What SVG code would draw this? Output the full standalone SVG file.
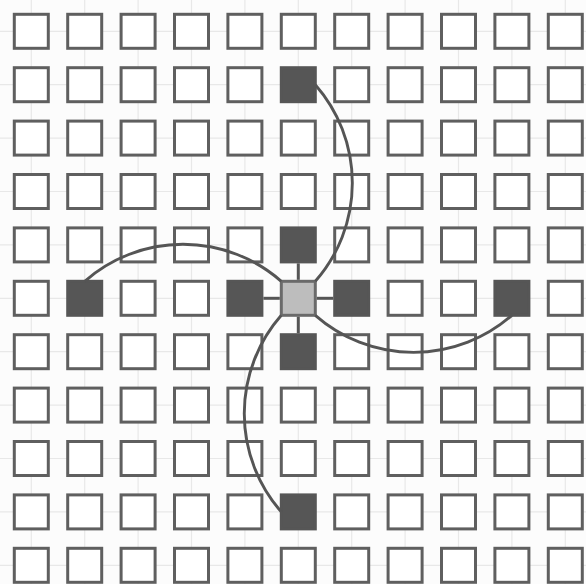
<svg xmlns="http://www.w3.org/2000/svg" width="586" height="584" viewBox="0 0 586 584">
<style>
rect{width:34px;height:34px;stroke:#5f5f5f;stroke-width:3;fill:#fff}
.d{fill:#565656;stroke:#565656}
.s{fill:#bdbdbd;stroke:#6a6a6a}
.mesh line{stroke:#e8e8e8;stroke-width:1.2}
.link{stroke:#555;stroke-width:3;fill:none}
.arc{stroke:#555;stroke-width:2.9;fill:none}
</style>
<rect x="-10" y="-10" width="606" height="604" style="width:606px;height:604px;fill:#fcfcfc;stroke:none"/>
<g class="mesh">
<line x1="0" y1="31.3" x2="586" y2="31.3"/><line x1="0" y1="84.7" x2="586" y2="84.7"/><line x1="0" y1="138.1" x2="586" y2="138.1"/><line x1="0" y1="191.5" x2="586" y2="191.5"/><line x1="0" y1="244.9" x2="586" y2="244.9"/><line x1="0" y1="298.3" x2="586" y2="298.3"/><line x1="0" y1="351.7" x2="586" y2="351.7"/><line x1="0" y1="405.1" x2="586" y2="405.1"/><line x1="0" y1="458.5" x2="586" y2="458.5"/><line x1="0" y1="511.9" x2="586" y2="511.9"/><line x1="0" y1="565.3" x2="586" y2="565.3"/>
<line y1="0" x1="31.3" y2="584" x2="31.3"/><line y1="0" x1="84.7" y2="584" x2="84.7"/><line y1="0" x1="138.1" y2="584" x2="138.1"/><line y1="0" x1="191.5" y2="584" x2="191.5"/><line y1="0" x1="244.9" y2="584" x2="244.9"/><line y1="0" x1="298.3" y2="584" x2="298.3"/><line y1="0" x1="351.7" y2="584" x2="351.7"/><line y1="0" x1="405.1" y2="584" x2="405.1"/><line y1="0" x1="458.5" y2="584" x2="458.5"/><line y1="0" x1="511.9" y2="584" x2="511.9"/><line y1="0" x1="565.3" y2="584" x2="565.3"/>
</g>
<g id="nodes">
<g id="n0-0"><rect x="14.3" y="14.3"/></g><g id="n0-1"><rect x="67.7" y="14.3"/></g><g id="n0-2"><rect x="121.1" y="14.3"/></g><g id="n0-3"><rect x="174.5" y="14.3"/></g><g id="n0-4"><rect x="227.9" y="14.3"/></g><g id="n0-5"><rect x="281.3" y="14.3"/></g><g id="n0-6"><rect x="334.7" y="14.3"/></g><g id="n0-7"><rect x="388.1" y="14.3"/></g><g id="n0-8"><rect x="441.5" y="14.3"/></g><g id="n0-9"><rect x="494.9" y="14.3"/></g><g id="n0-10"><rect x="548.3" y="14.3"/></g>
<g id="n1-0"><rect x="14.3" y="67.7"/></g><g id="n1-1"><rect x="67.7" y="67.7"/></g><g id="n1-2"><rect x="121.1" y="67.7"/></g><g id="n1-3"><rect x="174.5" y="67.7"/></g><g id="n1-4"><rect x="227.9" y="67.7"/></g><g id="n1-5"><rect class="d" x="281.3" y="67.7"/></g><g id="n1-6"><rect x="334.7" y="67.7"/></g><g id="n1-7"><rect x="388.1" y="67.7"/></g><g id="n1-8"><rect x="441.5" y="67.7"/></g><g id="n1-9"><rect x="494.9" y="67.7"/></g><g id="n1-10"><rect x="548.3" y="67.7"/></g>
<g id="n2-0"><rect x="14.3" y="121.1"/></g><g id="n2-1"><rect x="67.7" y="121.1"/></g><g id="n2-2"><rect x="121.1" y="121.1"/></g><g id="n2-3"><rect x="174.5" y="121.1"/></g><g id="n2-4"><rect x="227.9" y="121.1"/></g><g id="n2-5"><rect x="281.3" y="121.1"/></g><g id="n2-6"><rect x="334.7" y="121.1"/></g><g id="n2-7"><rect x="388.1" y="121.1"/></g><g id="n2-8"><rect x="441.5" y="121.1"/></g><g id="n2-9"><rect x="494.9" y="121.1"/></g><g id="n2-10"><rect x="548.3" y="121.1"/></g>
<g id="n3-0"><rect x="14.3" y="174.5"/></g><g id="n3-1"><rect x="67.7" y="174.5"/></g><g id="n3-2"><rect x="121.1" y="174.5"/></g><g id="n3-3"><rect x="174.5" y="174.5"/></g><g id="n3-4"><rect x="227.9" y="174.5"/></g><g id="n3-5"><rect x="281.3" y="174.5"/></g><g id="n3-6"><rect x="334.7" y="174.5"/></g><g id="n3-7"><rect x="388.1" y="174.5"/></g><g id="n3-8"><rect x="441.5" y="174.5"/></g><g id="n3-9"><rect x="494.9" y="174.5"/></g><g id="n3-10"><rect x="548.3" y="174.5"/></g>
<g id="n4-0"><rect x="14.3" y="227.9"/></g><g id="n4-1"><rect x="67.7" y="227.9"/></g><g id="n4-2"><rect x="121.1" y="227.9"/></g><g id="n4-3"><rect x="174.5" y="227.9"/></g><g id="n4-4"><rect x="227.9" y="227.9"/></g><g id="n4-5"><rect class="d" x="281.3" y="227.9"/></g><g id="n4-6"><rect x="334.7" y="227.9"/></g><g id="n4-7"><rect x="388.1" y="227.9"/></g><g id="n4-8"><rect x="441.5" y="227.9"/></g><g id="n4-9"><rect x="494.9" y="227.9"/></g><g id="n4-10"><rect x="548.3" y="227.9"/></g>
<g id="n5-0"><rect x="14.3" y="281.3"/></g><g id="n5-1"><rect class="d" x="67.7" y="281.3"/></g><g id="n5-2"><rect x="121.1" y="281.3"/></g><g id="n5-3"><rect x="174.5" y="281.3"/></g><g id="n5-4"><rect class="d" x="227.9" y="281.3"/></g><g id="n5-5"><rect class="s" x="281.3" y="281.3"/></g><g id="n5-6"><rect class="d" x="334.7" y="281.3"/></g><g id="n5-7"><rect x="388.1" y="281.3"/></g><g id="n5-8"><rect x="441.5" y="281.3"/></g><g id="n5-9"><rect class="d" x="494.9" y="281.3"/></g><g id="n5-10"><rect x="548.3" y="281.3"/></g>
<g id="n6-0"><rect x="14.3" y="334.7"/></g><g id="n6-1"><rect x="67.7" y="334.7"/></g><g id="n6-2"><rect x="121.1" y="334.7"/></g><g id="n6-3"><rect x="174.5" y="334.7"/></g><g id="n6-4"><rect x="227.9" y="334.7"/></g><g id="n6-5"><rect class="d" x="281.3" y="334.7"/></g><g id="n6-6"><rect x="334.7" y="334.7"/></g><g id="n6-7"><rect x="388.1" y="334.7"/></g><g id="n6-8"><rect x="441.5" y="334.7"/></g><g id="n6-9"><rect x="494.9" y="334.7"/></g><g id="n6-10"><rect x="548.3" y="334.7"/></g>
<g id="n7-0"><rect x="14.3" y="388.1"/></g><g id="n7-1"><rect x="67.7" y="388.1"/></g><g id="n7-2"><rect x="121.1" y="388.1"/></g><g id="n7-3"><rect x="174.5" y="388.1"/></g><g id="n7-4"><rect x="227.9" y="388.1"/></g><g id="n7-5"><rect x="281.3" y="388.1"/></g><g id="n7-6"><rect x="334.7" y="388.1"/></g><g id="n7-7"><rect x="388.1" y="388.1"/></g><g id="n7-8"><rect x="441.5" y="388.1"/></g><g id="n7-9"><rect x="494.9" y="388.1"/></g><g id="n7-10"><rect x="548.3" y="388.1"/></g>
<g id="n8-0"><rect x="14.3" y="441.5"/></g><g id="n8-1"><rect x="67.7" y="441.5"/></g><g id="n8-2"><rect x="121.1" y="441.5"/></g><g id="n8-3"><rect x="174.5" y="441.5"/></g><g id="n8-4"><rect x="227.9" y="441.5"/></g><g id="n8-5"><rect x="281.3" y="441.5"/></g><g id="n8-6"><rect x="334.7" y="441.5"/></g><g id="n8-7"><rect x="388.1" y="441.5"/></g><g id="n8-8"><rect x="441.5" y="441.5"/></g><g id="n8-9"><rect x="494.9" y="441.5"/></g><g id="n8-10"><rect x="548.3" y="441.5"/></g>
<g id="n9-0"><rect x="14.3" y="494.9"/></g><g id="n9-1"><rect x="67.7" y="494.9"/></g><g id="n9-2"><rect x="121.1" y="494.9"/></g><g id="n9-3"><rect x="174.5" y="494.9"/></g><g id="n9-4"><rect x="227.9" y="494.9"/></g><g id="n9-5"><rect class="d" x="281.3" y="494.9"/></g><g id="n9-6"><rect x="334.7" y="494.9"/></g><g id="n9-7"><rect x="388.1" y="494.9"/></g><g id="n9-8"><rect x="441.5" y="494.9"/></g><g id="n9-9"><rect x="494.9" y="494.9"/></g><g id="n9-10"><rect x="548.3" y="494.9"/></g>
<g id="n10-0"><rect x="14.3" y="548.3"/></g><g id="n10-1"><rect x="67.7" y="548.3"/></g><g id="n10-2"><rect x="121.1" y="548.3"/></g><g id="n10-3"><rect x="174.5" y="548.3"/></g><g id="n10-4"><rect x="227.9" y="548.3"/></g><g id="n10-5"><rect x="281.3" y="548.3"/></g><g id="n10-6"><rect x="334.7" y="548.3"/></g><g id="n10-7"><rect x="388.1" y="548.3"/></g><g id="n10-8"><rect x="441.5" y="548.3"/></g><g id="n10-9"><rect x="494.9" y="548.3"/></g><g id="n10-10"><rect x="548.3" y="548.3"/></g>
</g>
<g id="connectors">
<line class="link" x1="298.3" y1="279.8" x2="298.3" y2="263.4"/>
<line class="link" x1="298.3" y1="316.8" x2="298.3" y2="333.2"/>
<line class="link" x1="279.8" y1="298.3" x2="263.4" y2="298.3"/>
<line class="link" x1="316.8" y1="298.3" x2="333.2" y2="298.3"/>
<path class="arc" d="M315.3,281.3 A149,149 0 0 0 315.3,84.7"/>
<path class="arc" d="M315.3,315.3 A149,149 0 0 0 511.9,315.3"/>
<path class="arc" d="M281.3,315.3 A149,149 0 0 0 281.3,511.9"/>
<path class="arc" d="M281.3,281.3 A149,149 0 0 0 84.7,281.3"/>
</g>
</svg>
